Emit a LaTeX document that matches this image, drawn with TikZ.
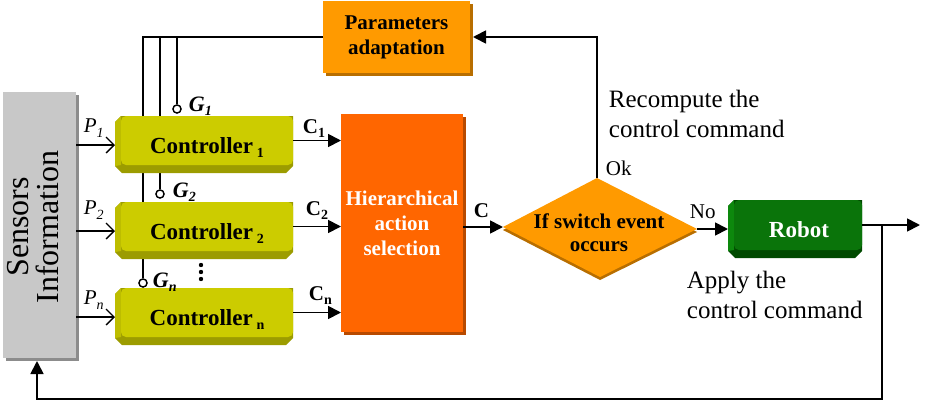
\documentclass[tikz,border=0pt]{standalone}
\usepackage{fontspec}
\setmainfont{Liberation Serif}
\usetikzlibrary{arrows.meta}
\definecolor{ctrlface}{HTML}{CCCC00}
\definecolor{ctrlleft}{HTML}{BDBD00}
\definecolor{ctrlbot}{HTML}{9C9C00}
\definecolor{robface}{HTML}{0A740A}
\definecolor{robleft}{HTML}{0D880D}
\definecolor{robbot}{HTML}{004A00}
\definecolor{orA}{HTML}{FF9A00}
\definecolor{orShadow}{HTML}{B86E00}
\definecolor{hierface}{HTML}{FF6600}
\definecolor{hierShadow}{HTML}{B84A00}
\definecolor{grayface}{HTML}{C8C8C8}
\definecolor{grayShadow}{HTML}{8C8C8C}
\newcommand\mybevel[5]{%
  \fill[#5bot] (#1+6,#2) -- (#3,#2) -- (#3,#4-7) -- (#3-7,#4) -- (#1+7,#4) -- (#1,#4-7) -- (#1,#2+6) -- cycle;
  \fill[#5left] (#1,#2+6) -- (#1+6,#2) -- (#1+6,#4-8) -- (#1,#4-7) -- cycle;
}
\newcommand\subsc[1]{\raisebox{-4pt}{\fontsize{14}{14}\selectfont #1}}
\begin{document}
\begin{tikzpicture}[x=1pt,y=-1pt,
  line width=1.8pt,
  fillarrow/.style={-{Triangle[length=13pt,width=13pt]}},
  openarrow/.style={-{Straight Barb[length=8pt,width=16pt,line width=1.4pt]}, line width=1.4pt},
  face/.style={inner sep=0, outer sep=0},
  boldtxt/.style={font=\fontsize{21}{25}\selectfont\bfseries, align=center},
  ctrltxt/.style={font=\fontsize{23}{23}\selectfont\bfseries, inner sep=0, anchor=base},
  reg/.style={font=\fontsize{25}{30}\selectfont, inner sep=0, align=left, anchor=north west},
  small/.style={font=\fontsize{21}{21}\selectfont, inner sep=0, anchor=base west},
  plbl/.style={font=\fontsize{21}{21}\selectfont\itshape, inner sep=0, anchor=base west},
  glbl/.style={font=\fontsize{22}{22}\selectfont\bfseries\itshape, inner sep=0, anchor=base west},
  clbl/.style={font=\fontsize{21}{21}\selectfont\bfseries, inner sep=0, anchor=base west},
  gcirc/.style={circle, draw, fill=white, inner sep=0, minimum size=8pt, line width=1.3pt},
]
\useasboundingbox (0,0) rectangle (927,407);

% ---- parameters adaptation box
\fill[orShadow] (326,4) rectangle (473,76);
\node[face, fill=orA, minimum width=147pt, minimum height=72pt, boldtxt] (param) at (396.5,37) {Parameters\\adaptation};

% ---- G circles (positions) and bus lines (behind controllers)
\node[gcirc] (g1) at (177,109) {};
\node[gcirc] (g2) at (160,194) {};
\node[gcirc] (gn) at (143,283) {};
\draw (param.west) -| (gn.north);
\draw (g2.north) -- (g2.north |- param.west);
\draw (g1.north) -- (g1.north |- param.west);

% ---- sensors box
\fill[grayShadow] (6,95) rectangle (79,361);
\node[face, fill=grayface, minimum width=73pt, minimum height=266pt] (sensbox) at (39.5,225) {};
\node[rotate=90, font=\fontsize{32}{30}\selectfont, align=center, inner sep=0] (senstxt) at (33,227) {Sensors\\Information};

% ---- controllers
\mybevel{115}{116}{293}{173}{ctrl}
\node[face, fill=ctrlface, rounded corners=5pt, minimum width=172pt, minimum height=49pt] (ctrl1) at (207,140.5) {};
\node[ctrltxt] (ctrl1t) at (207,153) {Controller\,\subsc{1}};
\mybevel{115}{202}{293}{259}{ctrl}
\node[face, fill=ctrlface, rounded corners=5pt, minimum width=172pt, minimum height=49pt] (ctrl2) at (207,226.5) {};
\node[ctrltxt] (ctrl2t) at (207,239) {Controller\,\subsc{2}};
\mybevel{115}{288}{293}{345}{ctrl}
\node[face, fill=ctrlface, rounded corners=5pt, minimum width=172pt, minimum height=49pt] (ctrln) at (207,312.5) {};
\node[ctrltxt] (ctrlnt) at (207,325) {Controller\,\subsc{n}};

% redraw circles on top
\node[gcirc] at (g1) {};
\node[gcirc] at (g2) {};
\node[gcirc] at (gn) {};

% ---- G labels and dots
\node[glbl] (lg1) at (188,111) {G\subsc{1}};
\node[glbl] (lg2) at (172,197) {G\subsc{2}};
\node[glbl] (lgn) at (152,287) {G\subsc{n}};
\fill (201,265) circle (2.2pt) (201,272) circle (2.2pt) (201,279) circle (2.2pt);

% ---- sensor to controllers
\draw[openarrow] ([yshift=-4.5pt]ctrl1.west -| sensbox.east) -- ([xshift=-6pt,yshift=-4.5pt]ctrl1.west);
\draw[openarrow] ([yshift=-4.5pt]ctrl2.west -| sensbox.east) -- ([xshift=-6pt,yshift=-4.5pt]ctrl2.west);
\draw[openarrow] ([yshift=-4.5pt]ctrln.west -| sensbox.east) -- ([xshift=-6pt,yshift=-4.5pt]ctrln.west);
\node[plbl] (p1) at (83,132) {P\raisebox{-5pt}{\fontsize{14}{14}\selectfont 1}};
\node[plbl] (p2) at (83,214) {P\raisebox{-5pt}{\fontsize{14}{14}\selectfont 2}};
\node[plbl] (pn) at (83,304) {P\raisebox{-5pt}{\fontsize{14}{14}\selectfont n}};

% ---- hierarchical action selection
\fill[hierShadow] (344,117) rectangle (466,335);
\node[face, fill=hierface, minimum width=122pt, minimum height=218pt, boldtxt, text=white] (hier) at (402,223) {Hierarchical\\action\\selection};

\draw[fillarrow] (ctrl1.east) -- (hier.west |- ctrl1.east);
\draw[fillarrow] (ctrl2.east) -- (hier.west |- ctrl2.east);
\draw[fillarrow] (ctrln.east) -- (hier.west |- ctrln.east);
\node[clbl] (c1) at (302,133) {C\subsc{1}};
\node[clbl] (c2) at (305,215) {C\subsc{2}};
\node[clbl] (cn) at (308,300) {C\subsc{n}};

% ---- decision diamond
\coordinate (dL) at (503,227);
\coordinate (dT) at (597,178);
\coordinate (dR) at (697,229);
\coordinate (dB) at (600,277);
\fill[orShadow] (503,230) -- (597,181) -- (697,232) -- (600,280) -- cycle;
\fill[orA] (dL) -- (dT) -- (dR) -- (dB) -- cycle;
\node[boldtxt, inner sep=0, font=\fontsize{21}{23}\selectfont\bfseries] (dtxt) at (599,233) {If switch event\\occurs};

\draw[fillarrow] (hier.east |- dL) -- (dL);
\node[clbl] (clab) at (473,217) {C};

\draw[fillarrow] (dT) -- (dT |- param.east) -- ([xshift=3pt]param.east);
\node[small] (ok) at (605,175) {Ok};
\node[reg] (recomp) at (608,89) {Recompute the\\control command};

% ---- robot
\mybevel{728}{200}{862}{258}{rob}
\node[face, fill=robface, rounded corners=5pt, minimum width=128pt, minimum height=50pt] (robot) at (798,225) {};
\node[font=\fontsize{23}{23}\selectfont\bfseries, text=white, inner sep=0, anchor=base] (robt) at (799,237) {Robot};
\coordinate (robL) at (728,229);
\draw[fillarrow] (dR) -- (dR -| robL);
\node[small] (no) at (689,218) {No};
\node[reg] (apply) at (686,270) {Apply the\\control command};

% ---- output and feedback
\coordinate (outp) at (920,225);
\coordinate (br) at (882,225);
\coordinate (fbx) at (37,399);
\draw[fillarrow] (robot.east) -- (outp);
\draw[fillarrow] (br) |- (fbx) -- ([yshift=-3pt]fbx |- sensbox.south);
\end{tikzpicture}
\end{document}
